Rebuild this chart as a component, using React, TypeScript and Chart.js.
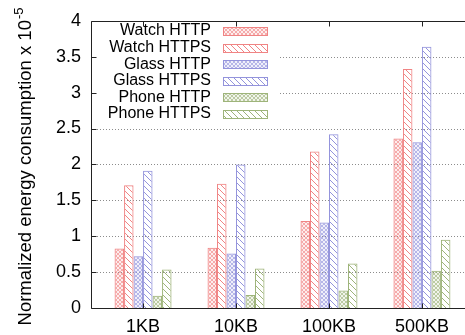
import React, { useEffect, useRef } from "react";
import { Chart, registerables } from "chart.js";
Chart.register(...registerables);

const categories = ["1KB", "10KB", "100KB", "500KB"];
const watchHttp = [0.83, 0.84, 1.21, 2.36];
const watchHttps = [1.71, 1.73, 2.18, 3.33];
const glassHttp = [0.72, 0.76, 1.19, 2.31];
const glassHttps = [1.91, 2.0, 2.42, 3.64];
const phoneHttp = [0.17, 0.18, 0.245, 0.52];
const phoneHttps = [0.535, 0.55, 0.62, 0.95];
const seriesNames = ["Watch HTTP", "Watch HTTPS", "Glass HTTP", "Glass HTTPS", "Phone HTTP", "Phone HTTPS"];
const seriesValues = [watchHttp, watchHttps, glassHttp, glassHttps, phoneHttp, phoneHttps];
const yTicks = [0, 0.5, 1, 1.5, 2, 2.5, 3, 3.5, 4];
const yTitle = "Normalized energy consumption x 10";
const ySup = "-5";

const RED = "rgb(240,132,132)";
const BLUE = "rgb(148,148,220)";
const GREEN = "rgb(158,180,122)";
const seriesColors = [RED, RED, BLUE, BLUE, GREEN, GREEN];
const FONT = "'Liberation Sans', Arial, Helvetica, sans-serif";

function makeHatch(ctx: CanvasRenderingContext2D, color: string) {
  const c = document.createElement("canvas");
  c.width = 6;
  c.height = 6;
  const x = c.getContext("2d")!;
  x.strokeStyle = color;
  x.lineWidth = 1;
  x.beginPath();
  x.moveTo(-1, -1);
  x.lineTo(7, 7);
  x.moveTo(-1, 5);
  x.lineTo(1, 7);
  x.moveTo(5, -1);
  x.lineTo(7, 1);
  x.stroke();
  return ctx.createPattern(c, "repeat")!;
}

function makeCross(ctx: CanvasRenderingContext2D, color: string) {
  const c = document.createElement("canvas");
  c.width = 4;
  c.height = 4;
  const x = c.getContext("2d")!;
  x.globalAlpha = 0.15;
  x.fillStyle = color;
  x.fillRect(0, 0, 4, 4);
  x.globalAlpha = 0.8;
  x.strokeStyle = color;
  x.lineWidth = 0.8;
  x.beginPath();
  x.moveTo(-1, -1);
  x.lineTo(5, 5);
  x.moveTo(-1, 5);
  x.lineTo(5, -1);
  x.stroke();
  return ctx.createPattern(c, "repeat")!;
}

export default function App() {
  const ref = useRef<HTMLCanvasElement>(null);
  useEffect(() => {
    const canvas = ref.current!;
    const ctx = canvas.getContext("2d")!;
    const fills = seriesColors.map((c, i) => (i % 2 === 0 ? makeCross(ctx, c) : makeHatch(ctx, c)));

    const framePlugin = {
      id: "frame",
      beforeDatasetsDraw(chart: any) {
        const { ctx: g, chartArea: a, scales } = chart;
        const y = scales.y;
        g.save();
        g.strokeStyle = "rgba(0,0,0,0.45)";
        g.lineWidth = 1;
        g.setLineDash([1, 2]);
        for (const v of yTicks) {
          if (v === 0 || v === 4) continue;
          const py = Math.round(y.getPixelForValue(v)) + 0.5;
          g.beginPath();
          g.moveTo(a.left, py);
          g.lineTo(a.right, py);
          g.stroke();
        }
        g.restore();
      },
      afterDatasetsDraw(chart: any) {
        const { ctx: g, chartArea: a, scales } = chart;
        const x = scales.x;
        const y = scales.y;
        g.save();
        // legend
        g.fillStyle = "#fff";
        g.fillRect(a.left + 1, a.top + 1, 186, 103);
        g.font = `16px ${FONT}`;
        g.textAlign = "right";
        g.textBaseline = "middle";
        seriesNames.forEach((n, i) => {
          const cy = 31 + i * 16.6;
          g.fillStyle = "#000";
          g.fillText(n, 211, cy);
          const bx = 223, bw = 44, bh = 8;
          const by = Math.round(cy - bh / 2) + 0.5;
          g.fillStyle = fills[i];
          g.fillRect(bx, by, bw, bh);
          g.strokeStyle = seriesColors[i];
          g.lineWidth = 1;
          g.strokeRect(bx + 0.5, by, bw, bh);
        });
        // frame
        g.strokeStyle = "#222";
        g.lineWidth = 1;
        const L = Math.round(a.left) + 0.5, T = Math.round(a.top) + 0.5, B = Math.round(a.bottom) + 0.5, R = Math.round(a.right) + 0.5;
        g.beginPath();
        g.moveTo(R, T);
        g.lineTo(L, T);
        g.lineTo(L, B);
        g.lineTo(R, B);
        g.lineTo(R, T);
        g.stroke();
        g.beginPath();
        for (const v of yTicks) {
          const py = Math.round(y.getPixelForValue(v)) + 0.5;
          g.moveTo(L, py);
          g.lineTo(L + 5, py);
        }
        categories.forEach((_, i) => {
          const px = Math.round(x.getPixelForValue(i)) + 0.5;
          g.moveTo(px, T);
          g.lineTo(px, T + 5);
          g.moveTo(px, B);
          g.lineTo(px, B - 5);
        });
        g.stroke();
        // y title
        g.translate(26, 167);
        g.rotate(-Math.PI / 2);
        g.fillStyle = "#000";
        g.textAlign = "left";
        g.textBaseline = "middle";
        g.font = `18.5px ${FONT}`;
        const w1 = g.measureText(yTitle).width;
        g.font = `13px ${FONT}`;
        const w2 = g.measureText(ySup).width;
        const start = -(w1 + w2) / 2;
        g.font = `18.5px ${FONT}`;
        g.fillText(yTitle, start, 0);
        g.font = `13px ${FONT}`;
        g.fillText(ySup, start + w1 + 1, -7);
        g.restore();
      },
    };

    const chart = new Chart(ctx, {
      type: "bar",
      data: {
        datasets: seriesValues.map((vals, i) => ({
          label: seriesNames[i],
          data: vals.map((v, k) => ({ x: k, y: v })),
          backgroundColor: fills[i],
          borderColor: seriesColors[i],
          borderWidth: 1,
          barPercentage: 1,
          categoryPercentage: 0.613,
        })),
      },
      options: {
        responsive: false,
        animation: false,
        layout: { padding: { left: 0, right: 6, top: 18, bottom: 0 } },
        plugins: { legend: { display: false }, tooltip: { enabled: false } },
        scales: {
          x: {
            type: "linear",
            min: -0.56,
            max: 3.56,
            offset: false,
            grid: { display: false, drawTicks: false },
            border: { display: false },
            afterBuildTicks: (s: any) => {
              s.ticks = categories.map((_, i) => ({ value: i }));
            },
            ticks: {
              callback: (v: any) => categories[v] ?? "",
              font: { family: FONT, size: 18 },
              color: "#000",
              padding: 8,
              maxRotation: 0,
              autoSkip: false,
            },
            afterFit: (s: any) => {
              s.height = 27;
            },
          },
          y: {
            min: 0,
            max: 4,
            grid: { display: false, drawTicks: false },
            border: { display: false },
            afterBuildTicks: (s: any) => {
              s.ticks = yTicks.map((v) => ({ value: v }));
            },
            ticks: {
              callback: (v: any) => String(v),
              font: { family: FONT, size: 18 },
              color: "#000",
              padding: 10,
            },
            afterFit: (s: any) => {
              s.width = 91;
            },
          },
        },
      } as any,
      plugins: [framePlugin],
    });
    return () => chart.destroy();
  }, []);

  return (
    <div style={{ position: "fixed", left: 0, top: 0, width: 465, height: 335, overflow: "hidden", background: "#fff" }}>
      <canvas ref={ref} width={480} height={335} style={{ display: "block", width: 480, height: 335 }} />
    </div>
  );
}
